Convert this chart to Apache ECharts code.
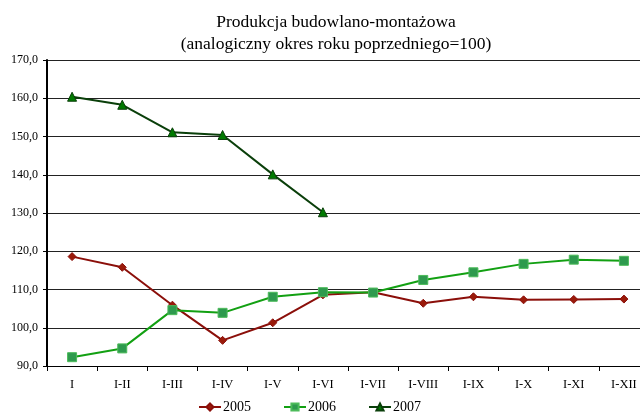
<!DOCTYPE html>
<html>
<head>
<meta charset="utf-8">
<script src="https://cdn.jsdelivr.net/npm/echarts@6/dist/echarts.min.js"></script>
<style>
  html, body { margin: 0; padding: 0; background: #fff; }
  #chart { width: 640px; height: 412px; }
</style>
</head>
<body>
<div id="chart"></div>
<script>
// Categories (cumulative periods)
const categories = ['I', 'I-II', 'I-III', 'I-IV', 'I-V', 'I-VI', 'I-VII', 'I-VIII', 'I-IX', 'I-X', 'I-XI', 'I-XII']

// Series values (previous year = 100)
const values2005 = [118.6, 115.8, 105.9, 96.7, 101.3, 108.6, 109.3, 106.4, 108.1, 107.3, 107.4, 107.5]
const values2006 = [92.3, 94.6, 104.6, 103.9, 108.1, 109.3, 109.2, 112.5, 114.5, 116.7, 117.8, 117.5]
const values2007 = [160.4, 158.3, 151.1, 150.4, 140.1, 130.2]

const font = '"Liberation Serif", "DejaVu Serif", serif'

const chart = echarts.init(document.getElementById('chart'))

chart.setOption({
  animation: false,
  title: {
    text: 'Produkcja budowlano-montażowa\n(analogiczny okres roku poprzedniego=100)',
    left: 331,
    textAlign: 'center',
    top: 6,
    textStyle: {
      fontFamily: font,
      fontSize: 17.5,
      fontWeight: 'normal',
      color: '#000',
      lineHeight: 22
    }
  },
  legend: {
    top: 395,
    left: 193,
    itemGap: 32,
    itemWidth: 22,
    itemHeight: 9,
    textStyle: { fontFamily: font, fontSize: 14, color: '#000', padding: [0, 0, 0, -3] },
    data: ['2005', '2006', '2007']
  },
  grid: {
    left: 47,
    width: 602,
    top: 60,
    height: 306,
    outerBoundsMode: 'none',
    containLabel: false
  },
  xAxis: {
    type: 'category',
    data: categories,
    boundaryGap: true,
    axisLine: { lineStyle: { color: '#000', width: 1 } },
    axisTick: { show: true, length: 5, lineStyle: { color: '#000' } },
    axisLabel: { fontFamily: font, fontSize: 12.5, color: '#000', margin: 12 }
  },
  yAxis: {
    type: 'value',
    min: 90,
    max: 170,
    interval: 10,
    axisLine: { show: true, lineStyle: { color: '#000', width: 2 } },
    axisTick: { show: true, length: 4, lineStyle: { color: '#000' } },
    axisLabel: {
      fontFamily: font,
      fontSize: 12,
      color: '#000',
      margin: 9,
      formatter: v => v.toFixed(1).replace('.', ',')
    },
    splitLine: { lineStyle: { color: '#222', width: 1 } }
  },
  series: [
    {
      name: '2005',
      type: 'line',
      data: values2005,
      symbol: 'diamond',
      symbolSize: 8,
      lineStyle: { color: '#8b0f0a', width: 2 },
      itemStyle: { color: '#9a1a0a', borderColor: '#8b0f0a', borderWidth: 1 }
    },
    {
      name: '2006',
      type: 'line',
      data: values2006,
      symbol: 'rect',
      symbolSize: 9,
      lineStyle: { color: '#12a012', width: 2 },
      itemStyle: { color: '#2e9a4e', borderColor: '#4cbb5a', borderWidth: 1 }
    },
    {
      name: '2007',
      type: 'line',
      data: values2007,
      symbol: 'triangle',
      symbolSize: 9,
      lineStyle: { color: '#0a3f0a', width: 2 },
      itemStyle: { color: '#007a00', borderColor: '#0a3f0a', borderWidth: 1 }
    }
  ]
})
</script>
</body>
</html>
